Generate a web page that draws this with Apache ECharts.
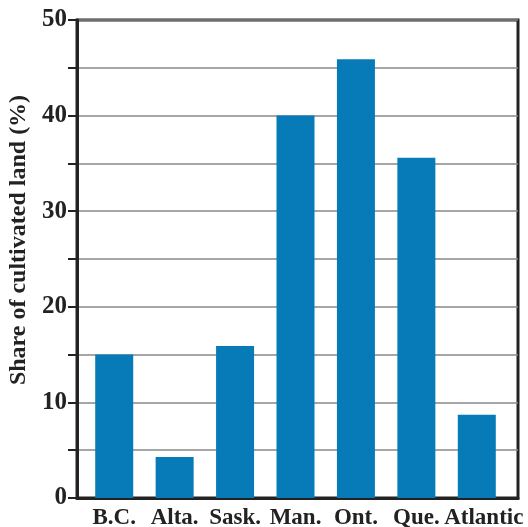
<!DOCTYPE html>
<html>
<head>
<meta charset="utf-8">
<script src="https://cdn.jsdelivr.net/npm/echarts@6/dist/echarts.min.js"></script>
<style>
  html, body { margin: 0; padding: 0; background: #fff; }
  #chart { width: 528px; height: 527px; }
</style>
</head>
<body>
<div id="chart"></div>
<script>
// provinces / regions
var regions = ['B.C.', 'Alta.', 'Sask.', 'Man.', 'Ont.', 'Que.', 'Atlantic'];
// share of cultivated land (%)
var share = [15, 4.3, 15.9, 40, 45.9, 35.6, 8.7];
var yTicks = [0, 10, 20, 30, 40, 50];

var font = '"Liberation Serif", "Times New Roman", serif';
var chart = echarts.init(document.getElementById('chart'));

var option = {
  animation: false,
  grid: [
    // outer frame with the y axis and gridlines
    {
      left: 77, right: 10, top: 20, bottom: 29,
      outerBoundsMode: 'none',
      show: true,
      borderColor: '#222',
      borderWidth: 3
    },
    // bar area, a bit narrower than the frame
    {
      left: 84, right: 21, top: 20, bottom: 29,
      outerBoundsMode: 'none'
    }
  ],
  xAxis: [
    {
      gridIndex: 0,
      type: 'category',
      data: regions,
      axisLine: { lineStyle: { color: '#222', width: 3 } },
      axisTick: { show: false },
      axisLabel: { show: false }
    },
    {
      gridIndex: 1,
      type: 'category',
      data: regions,
      axisLine: { show: false },
      axisTick: { show: false },
      axisLabel: {
        interval: 0,
        margin: 9,
        color: '#222',
        fontFamily: font,
        fontWeight: 'bold',
        fontSize: 23,
        // last label sits a little to the right in the original
        formatter: function (v) {
          return v === 'Atlantic' ? '{r|' + v + '}' : v;
        },
        rich: {
          r: {
            padding: [0, 0, 0, 14],
            color: '#222',
            fontFamily: font,
            fontWeight: 'bold',
            fontSize: 23
          }
        }
      }
    }
  ],
  yAxis: [
    {
      gridIndex: 0,
      type: 'value',
      min: 0,
      max: 50,
      interval: 5,
      name: 'Share of cultivated land (%)',
      nameLocation: 'middle',
      nameGap: 37,
      nameTextStyle: {
        color: '#222',
        fontFamily: font,
        fontWeight: 'bold',
        fontSize: 24,
        padding: [0, 0, 0, 38]
      },
      axisLine: { show: true, lineStyle: { color: '#222', width: 3 } },
      axisTick: { show: true, length: 9, lineStyle: { color: '#222', width: 2 } },
      axisLabel: {
        margin: 10,
        color: '#222',
        fontFamily: font,
        fontWeight: 'bold',
        fontSize: 25,
        formatter: function (v) {
          return yTicks.indexOf(v) >= 0 ? String(v) : '';
        }
      },
      splitLine: { lineStyle: { color: '#888', width: 1.5 } }
    },
    {
      gridIndex: 1,
      type: 'value',
      min: 0,
      max: 50,
      interval: 5,
      show: false
    }
  ],
  series: [
    {
      type: 'bar',
      xAxisIndex: 1,
      yAxisIndex: 1,
      data: share,
      barWidth: 38,
      itemStyle: { color: '#077bb8' }
    }
  ]
};

chart.setOption(option);
</script>
</body>
</html>
